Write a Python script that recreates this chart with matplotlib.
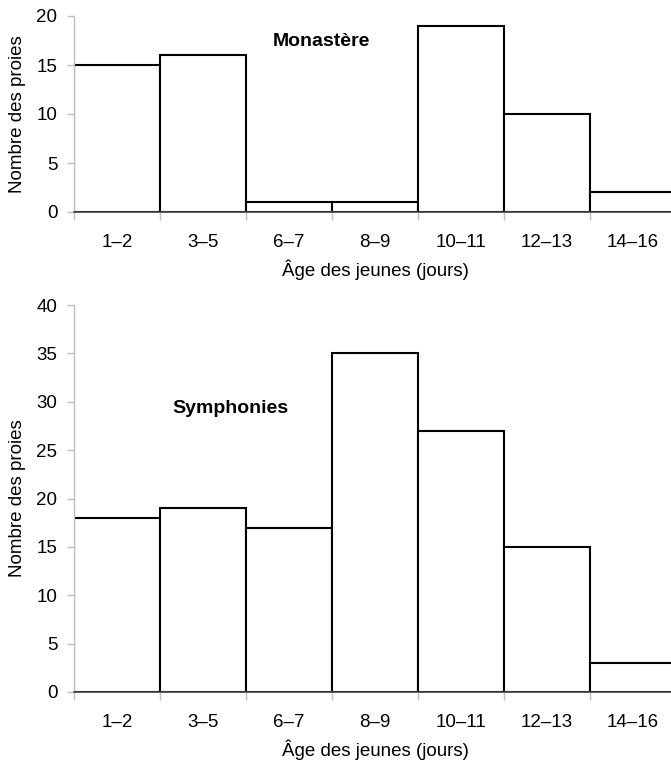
import matplotlib
matplotlib.use("Agg")
import matplotlib.pyplot as plt
import numpy as np

plt.rcParams['font.family'] = ['Liberation Sans', 'DejaVu Sans']

categories = ["1–2", "3–5", "6–7", "8–9", "10–11", "12–13", "14–16"]
monastere = [15, 16, 1, 1, 19, 10, 2]
symphonies = [18, 19, 17, 35, 27, 15, 3]
top_yticks = [0, 5, 10, 15, 20]
bottom_yticks = [0, 5, 10, 15, 20, 25, 30, 35, 40]

W, H = 671, 765
FS = 13.5
fig = plt.figure(figsize=(W / 100, H / 100), dpi=100)

def px_axes(left, top, right, bottom):
    return fig.add_axes([left / W, 1 - bottom / H, (right - left) / W, (bottom - top) / H])

ax1 = px_axes(74, 16, 676, 212)
ax2 = px_axes(74, 305, 676, 692)

def style(ax, values, yticks, title, tx, ty):
    n = len(values)
    x = np.arange(n)
    ax.bar(x + 0.5, values, width=1.0, facecolor='white', edgecolor='black', linewidth=1.5, zorder=2)
    ax.set_xlim(0, n)
    ax.set_ylim(yticks[0], yticks[-1])
    ax.set_yticks(yticks)
    ax.set_xticks(np.arange(n))
    ax.set_xticklabels([])
    ax.set_xticks(x + 0.5, minor=True)
    ax.set_xticklabels(categories, minor=True)
    ax.tick_params(axis='x', which='major', length=6, color='#c0c0c0', width=1)
    ax.tick_params(axis='x', which='minor', length=0, pad=16, labelsize=FS)
    ax.tick_params(axis='y', length=5, color='#c0c0c0', width=1, labelsize=FS, pad=7)
    for s in ['top', 'right']:
        ax.spines[s].set_visible(False)
    ax.spines['left'].set_color('#c0c0c0')
    ax.spines['left'].set_linewidth(1)
    ax.spines['bottom'].set_color('#404040')
    ax.spines['bottom'].set_linewidth(1.2)
    ax.spines['bottom'].set_zorder(3)
    ax.set_ylabel("Nombre des proies", fontsize=FS)
    ax.yaxis.set_label_coords(-48 / 602, 0.5)
    ax.set_xlabel("Âge des jeunes (jours)", fontsize=FS, labelpad=6)
    fig.text(tx / W, 1 - ty / H, title, fontsize=14, fontweight='bold', ha='center', va='baseline')

style(ax1, monastere, top_yticks, "Monastère", 321, 46)
style(ax2, symphonies, bottom_yticks, "Symphonies", 230, 413)

fig.savefig("out.png", dpi=100)
